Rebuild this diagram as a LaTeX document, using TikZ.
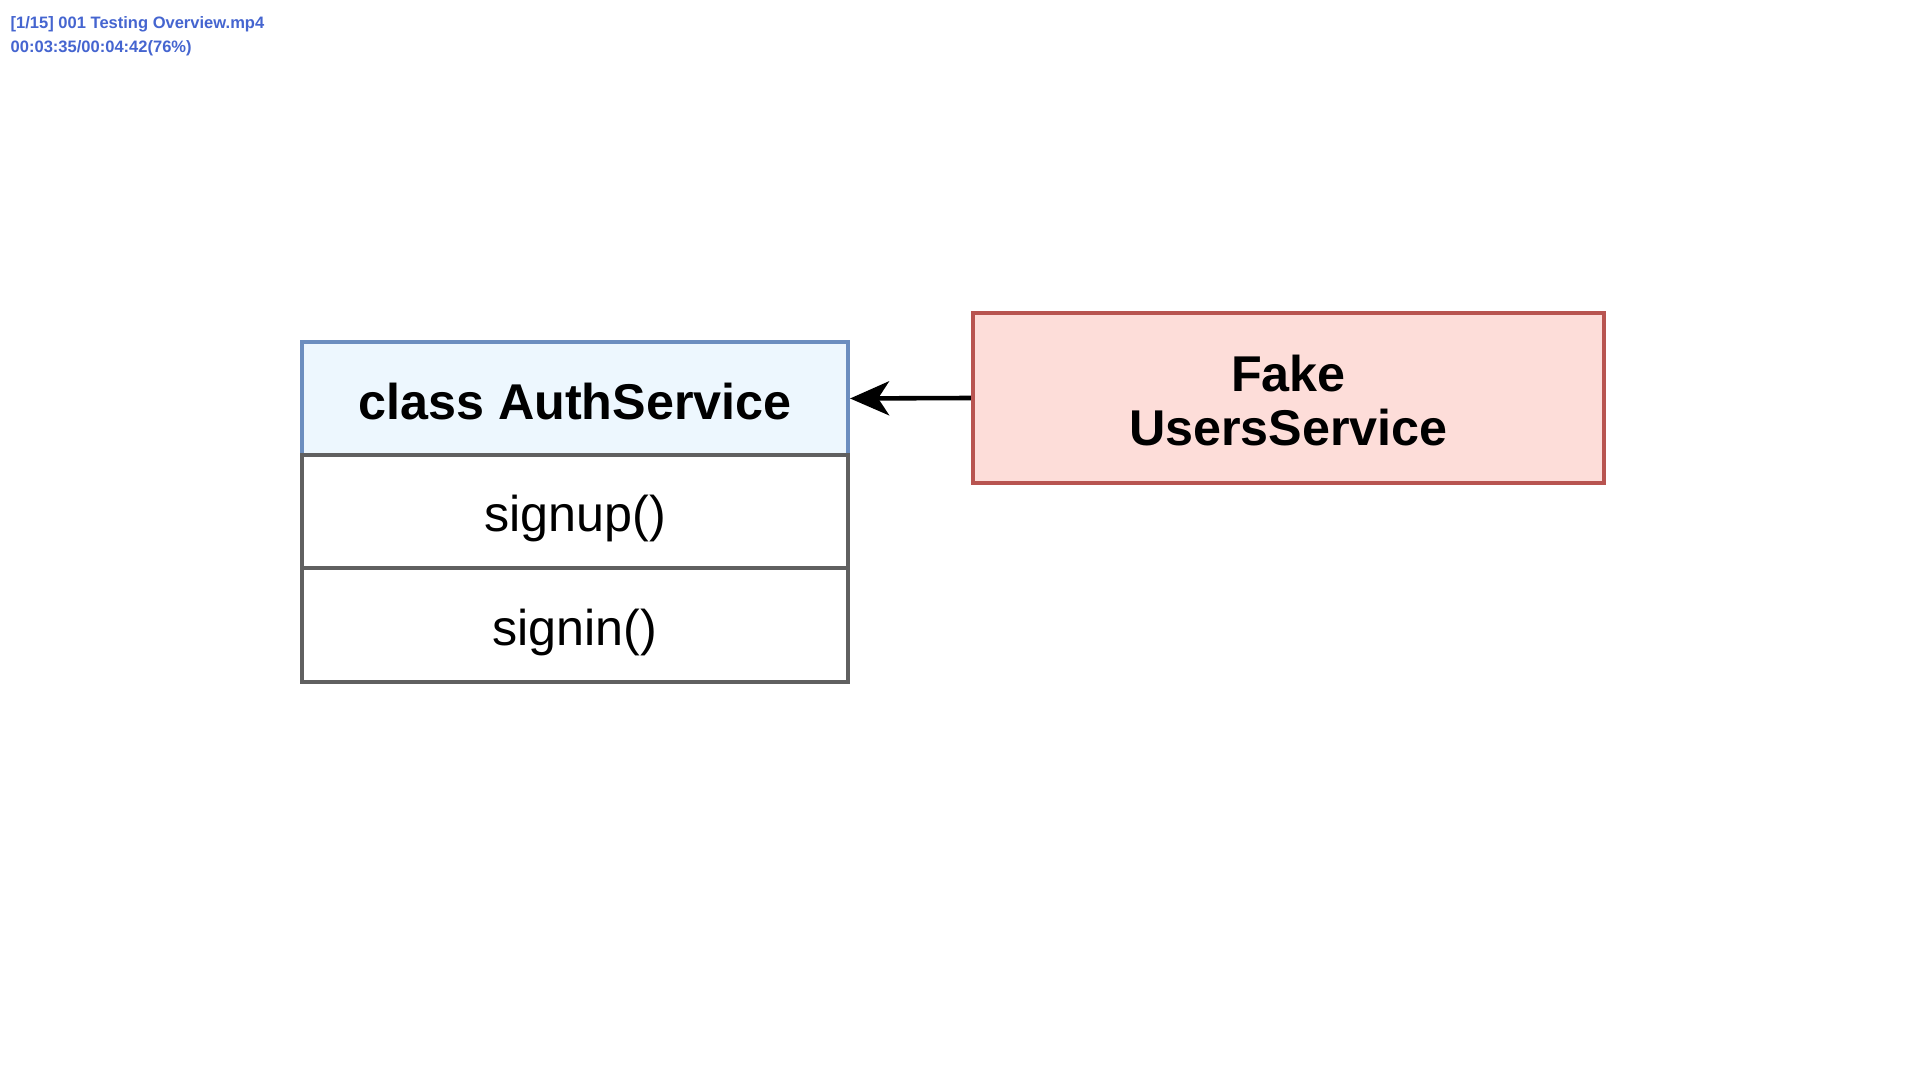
\documentclass[tikz,border=0pt]{standalone}
\usepackage{fontspec}
\setmainfont{Liberation Sans}
\usetikzlibrary{arrows.meta}
\definecolor{hdrfill}{HTML}{EDF7FE}
\definecolor{hdrline}{HTML}{6C8EBF}
\definecolor{fakefill}{HTML}{FDDDD9}
\definecolor{fakeline}{HTML}{B85450}
\definecolor{bodyline}{HTML}{606060}
\definecolor{overlay}{HTML}{4565D0}
\tikzset{
  hdrbox/.style={draw=hdrline, fill=hdrfill, line width=1.1pt, minimum width=5.46cm, minimum height=1.13cm, inner sep=0pt, text height=11.8pt, text depth=0pt, font=\fontsize{14.3pt}{15.4pt}\selectfont\bfseries},
  rowbox/.style={draw=bodyline, fill=white, line width=1.1pt, minimum width=5.46cm, minimum height=1.13cm, inner sep=0pt, text height=11.4pt, text depth=0pt, font=\fontsize{14.3pt}{15.4pt}\selectfont},
  fakebox/.style={draw=fakeline, fill=fakefill, line width=1.1pt, minimum width=6.31cm, minimum height=1.70cm, inner sep=0pt, align=center, text height=27.2pt, text depth=0pt, font=\fontsize{14.3pt}{15.4pt}\selectfont\bfseries},
  linkarrow/.style={draw=black, line width=1.3pt, -{Stealth[length=0.39cm, width=0.34cm, inset=0.11cm]}},
  overlaytext/.style={anchor=west, inner sep=0pt, text=overlay, font=\fontsize{4.7pt}{5pt}\selectfont\bfseries}
}
\begin{document}
\begin{tikzpicture}[x=0.01cm, y=-0.01cm]
  \useasboundingbox[fill=white] (0,0) rectangle (1920,1080);
  \node[overlaytext] (title) at (10,24) {[1/15] 001 Testing Overview.mp4};
  \node[overlaytext] (time) at (10,48) {00:03:35/00:04:42(76\%)};

  \node[hdrbox] (header) at (575,398.5) {class AuthService};
  \node[rowbox] (signup) at (575,511.5) {signup()};
  \node[rowbox, minimum height=1.14cm] (signin) at (575,625) {signin()};

  \node[fakebox] (fake) at (1288.5,398) {Fake\\UsersService};

  \draw[linkarrow] (fake.west) -- (header.east);
\end{tikzpicture}
\end{document}
